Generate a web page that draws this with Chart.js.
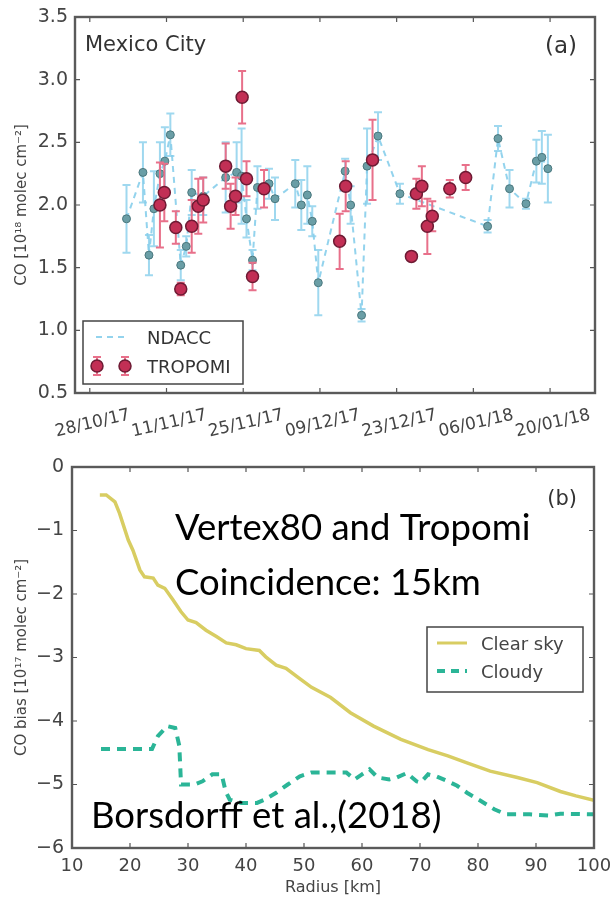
<!DOCTYPE html>
<html>
<head>
<meta charset="utf-8">
<script src="https://cdn.jsdelivr.net/npm/chart.js@4.4.0/dist/chart.umd.min.js"></script>
<style>
  html, body { margin: 0; padding: 0; background: #fff; }
  .panel { position: absolute; left: 0; }
</style>
</head>
<body>
<div class="panel" style="top:0"><canvas id="chartA" width="612" height="445"></canvas></div>
<div class="panel" style="top:445px"><canvas id="chartB" width="612" height="452"></canvas></div>
<script>
// ---- panel (a): days counted from 28/10/17 ----
const dateTickDays = [0, 14, 28, 42, 56, 70, 84];
const dateTickLabels = ['28/10/17', '11/11/17', '25/11/17', '09/12/17', '23/12/17', '06/01/18', '20/01/18'];

const ndaccDay = [6.7, 9.7, 10.8, 11.7, 12.8, 13.7, 14.7, 16.6, 17.6, 18.6, 20.7, 24.8, 26.8, 27.7, 28.6, 29.7, 30.6, 32.7, 33.8, 37.5,
                  38.6, 39.7, 40.6, 41.7, 46.6, 47.6, 49.6, 50.6, 52.6, 56.6, 72.6, 74.5, 76.6, 79.6, 81.5, 82.5, 83.6];
const ndaccCO = [1.89, 2.26, 1.60, 1.97, 2.25, 2.35, 2.56, 1.52, 1.67, 2.10, 2.07, 2.22, 2.26, 2.23, 1.89, 1.56, 2.14, 2.17, 2.05, 2.17,
                 2.00, 2.08, 1.87, 1.38, 2.27, 2.00, 1.12, 2.31, 2.55, 2.09, 1.83, 2.53, 2.13, 2.01, 2.35, 2.38, 2.29];
const ndaccErr = [0.27, 0.24, 0.16, 0.30, 0.25, 0.27, 0.17, 0.12, 0.08, 0.18, 0.15, 0.28, 0.24, 0.38, 0.15, 0.08, 0.17, 0.12, 0.17, 0.19,
                  0.20, 0.23, 0.12, 0.26, 0.10, 0.15, 0.05, 0.30, 0.19, 0.08, 0.05, 0.10, 0.15, 0.04, 0.17, 0.21, 0.27];

const tropDay = [12.8, 13.6, 15.7, 16.6, 18.6, 19.8, 20.7, 24.8, 25.7, 26.6, 27.8, 28.6, 29.7, 31.8, 45.6, 46.7, 51.6, 58.7, 59.6, 60.6,
                 61.6, 62.5, 65.7, 68.6];
const tropCO = [2.00, 2.10, 1.82, 1.33, 1.83, 1.99, 2.04, 2.31, 1.99, 2.07, 2.86, 2.21, 1.43, 2.13, 1.71, 2.15, 2.36, 1.59, 2.09, 2.15,
                1.83, 1.91, 2.13, 2.22];
const tropErr = [0.34, 0.23, 0.13, 0.05, 0.21, 0.22, 0.18, 0.18, 0.18, 0.15, 0.21, 0.14, 0.11, 0.15, 0.22, 0.20, 0.32, 0.03, 0.12, 0.16,
                 0.22, 0.12, 0.07, 0.10];

const coTicks = [0.5, 1.0, 1.5, 2.0, 2.5, 3.0, 3.5];

// ---- panel (b) ----
const clearR = [14.8, 15.9, 17.4, 18.2, 19.7, 20.5, 21.7, 22.5, 24.0, 24.8, 26.0, 27.4, 28.8, 30.0, 31.4, 33.1, 34.9, 36.6, 38.3, 40.0,
                42.3, 43.4, 45.2, 46.9, 49.2, 51.3, 54.6, 58.0, 62.0, 66.7, 71.4, 74.8, 78.1, 82.1, 86.8, 90.2, 94.2, 96.9, 100];
const clearBias = [-0.44, -0.44, -0.55, -0.73, -1.15, -1.31, -1.62, -1.73, -1.75, -1.86, -1.91, -2.09, -2.28, -2.41, -2.45, -2.57, -2.67, -2.77, -2.80, -2.86,
                   -2.89, -2.99, -3.12, -3.17, -3.33, -3.47, -3.63, -3.87, -4.08, -4.29, -4.45, -4.55, -4.66, -4.79, -4.89, -4.97, -5.11, -5.18, -5.25];

const cloudyR = [15.0, 23.8, 24.8, 26.4, 27.8, 28.5, 28.8, 31.1, 32.5, 34.2, 35.8, 36.5, 37.2, 39.2, 41.9, 43.2, 45.2, 47.2, 49.3, 51.3,
                 54.6, 57.3, 58.7, 60.0, 61.3, 62.7, 64.7, 66.0, 67.7, 69.4, 70.1, 71.4, 72.8, 74.8, 76.4, 78.1, 80.5, 82.8, 84.8, 88.9,
                 92.2, 94.2, 100];
const cloudyBias = [-4.44, -4.44, -4.24, -4.08, -4.11, -4.39, -5.00, -5.00, -4.95, -4.84, -4.84, -5.11, -5.24, -5.29, -5.29, -5.24, -5.13, -5.00, -4.87, -4.81,
                    -4.81, -4.81, -4.92, -4.84, -4.76, -4.89, -4.92, -4.89, -4.82, -4.95, -4.97, -4.84, -4.87, -4.95, -5.02, -5.13, -5.26, -5.39, -5.47, -5.47,
                    -5.49, -5.46, -5.47];

const radiusTicks = [10, 20, 30, 40, 50, 60, 70, 80, 90, 100];
const biasTicks = [-6, -5, -4, -3, -2, -1, 0];

Chart.defaults.font.family = '"DejaVu Sans", sans-serif';
Chart.defaults.color = '#444';

const toPoints = (xs, ys) => xs.map((x, i) => ({ x: x, y: ys[i] }));
const minus = v => (v < 0 ? '\u2212' + Math.abs(v) : String(v));

// error bars drawn under each dataset
const errorBars = {
  id: 'errorBars',
  beforeDatasetDraw(chart, args) {
    const ds = chart.data.datasets[args.index];
    if (!ds.errors) return;
    const { ctx, scales } = chart;
    ctx.save();
    ctx.strokeStyle = ds.errorColor;
    ctx.lineWidth = ds.errorWidth;
    ds.data.forEach((p, i) => {
      const px = scales.x.getPixelForValue(p.x);
      const top = scales.y.getPixelForValue(p.y + ds.errors[i]);
      const bot = scales.y.getPixelForValue(p.y - ds.errors[i]);
      const c = ds.capSize;
      ctx.beginPath();
      ctx.moveTo(px, top); ctx.lineTo(px, bot);
      ctx.moveTo(px - c, top); ctx.lineTo(px + c, top);
      ctx.moveTo(px - c, bot); ctx.lineTo(px + c, bot);
      ctx.stroke();
    });
    ctx.restore();
  }
};

// matplotlib-like box with inward ticks on all sides
const frameTicks = {
  id: 'frameTicks',
  afterDatasetsDraw(chart) {
    const { ctx, chartArea: a, scales } = chart;
    const len = 5;
    ctx.save();
    ctx.strokeStyle = '#555';
    ctx.lineWidth = 1.2;
    ctx.beginPath();
    scales.x.ticks.forEach(t => {
      const px = scales.x.getPixelForValue(t.value);
      ctx.moveTo(px, a.bottom); ctx.lineTo(px, a.bottom - len);
      ctx.moveTo(px, a.top); ctx.lineTo(px, a.top + len);
    });
    scales.y.ticks.forEach(t => {
      const py = scales.y.getPixelForValue(t.value);
      ctx.moveTo(a.left, py); ctx.lineTo(a.left + len, py);
      ctx.moveTo(a.right, py); ctx.lineTo(a.right - len, py);
    });
    ctx.stroke();
    ctx.strokeStyle = '#5a5a5a';
    ctx.lineWidth = 2.4;
    ctx.strokeRect(a.left, a.top, a.right - a.left, a.bottom - a.top);
    ctx.restore();
  }
};

// free text, legends
const extras = {
  id: 'extras',
  afterDraw(chart, args, opts) {
    const ctx = chart.ctx;
    ctx.save();
    (opts.legend ? [opts.legend] : []).forEach(lg => {
      ctx.fillStyle = '#fff';
      ctx.fillRect(lg.x, lg.y, lg.w, lg.h);
      ctx.strokeStyle = '#444';
      ctx.lineWidth = 1.5;
      ctx.strokeRect(lg.x, lg.y, lg.w, lg.h);
      lg.rows.forEach(r => r.draw(ctx));
    });
    (opts.texts || []).forEach(t => {
      ctx.font = t.font;
      ctx.fillStyle = t.color || '#000';
      ctx.textAlign = t.align || 'left';
      ctx.textBaseline = 'alphabetic';
      ctx.fillText(t.text, t.x, t.y);
    });
    ctx.restore();
  }
};

function marker(ctx, x, y, err) {
  ctx.strokeStyle = '#e8708a';
  ctx.lineWidth = 2;
  ctx.beginPath();
  ctx.moveTo(x, y - err); ctx.lineTo(x, y + err);
  ctx.moveTo(x - 4, y - err); ctx.lineTo(x + 4, y - err);
  ctx.moveTo(x - 4, y + err); ctx.lineTo(x + 4, y + err);
  ctx.stroke();
  ctx.beginPath();
  ctx.arc(x, y, 6, 0, Math.PI * 2);
  ctx.fillStyle = '#c22f55';
  ctx.fill();
  ctx.strokeStyle = '#6e1b34';
  ctx.lineWidth = 1.5;
  ctx.stroke();
}

// ---------------- chart (a) ----------------
new Chart(document.getElementById('chartA'), {
  type: 'scatter',
  data: {
    datasets: [
      {
        label: 'NDACC',
        data: toPoints(ndaccDay, ndaccCO),
        errors: ndaccErr, errorColor: 'rgba(135,206,235,0.8)', errorWidth: 2, capSize: 4,
        showLine: true,
        borderColor: 'rgba(135,206,235,0.9)',
        borderWidth: 2,
        borderDash: [6, 5],
        pointRadius: 4,
        pointBackgroundColor: '#6a9ea6',
        pointBorderColor: '#4a777d',
        pointBorderWidth: 1,
        order: 2
      },
      {
        label: 'TROPOMI',
        data: toPoints(tropDay, tropCO),
        errors: tropErr, errorColor: '#e8708a', errorWidth: 2, capSize: 4,
        showLine: false,
        pointRadius: 6,
        pointBackgroundColor: '#c22f55',
        pointBorderColor: '#6e1b34',
        pointBorderWidth: 1.5,
        order: 1
      }
    ]
  },
  options: {
    responsive: false,
    animation: false,
    events: [],
    layout: { padding: { top: 17, right: 17, left: 0, bottom: 0 } },
    plugins: {
      legend: { display: false },
      tooltip: { enabled: false },
      extras: {
        legend: {
          x: 83, y: 321, w: 160, h: 63,
          rows: [
            { draw(ctx) {
                ctx.strokeStyle = 'rgba(135,206,235,0.9)'; ctx.lineWidth = 2; ctx.setLineDash([6, 5]);
                ctx.beginPath(); ctx.moveTo(96, 337); ctx.lineTo(124, 337); ctx.stroke(); ctx.setLineDash([]);
                ctx.font = '18px "DejaVu Sans"'; ctx.fillStyle = '#333'; ctx.textAlign = 'left'; ctx.fillText('NDACC', 147, 344);
              } },
            { draw(ctx) {
                marker(ctx, 97, 366, 9); marker(ctx, 125, 366, 9);
                ctx.font = '18px "DejaVu Sans"'; ctx.fillStyle = '#333'; ctx.textAlign = 'left'; ctx.fillText('TROPOMI', 147, 373);
              } }
          ]
        },
        texts: [
          { text: 'Mexico City', x: 85, y: 51, font: '21px "DejaVu Sans"', color: '#333' },
          { text: '(a)', x: 577, y: 53, font: '23px "DejaVu Sans"', color: '#333', align: 'right' }
        ]
      }
    },
    scales: {
      x: {
        type: 'linear',
        min: -2.7,
        max: 92.2,
        afterBuildTicks: s => { s.ticks = dateTickDays.map(v => ({ value: v })); },
        afterFit: s => { s.height = 52; s.paddingLeft = 0; s.paddingRight = 0; },
        grid: { display: false, drawTicks: false },
        border: { display: false },
        ticks: {
          minRotation: 13, maxRotation: 13,
          labelOffset: 40,
          padding: 12,
          font: { size: 17 },
          color: '#444',
          callback: (v, i) => dateTickLabels[i]
        }
      },
      y: {
        min: 0.5,
        max: 3.5,
        afterBuildTicks: s => { s.ticks = coTicks.map(v => ({ value: v })); },
        afterFit: s => { s.width = 75; s.paddingTop = 0; s.paddingBottom = 0; },
        grid: { display: false, drawTicks: false },
        border: { display: false },
        title: { display: true, text: 'CO [10\u00b9\u2078 molec cm\u207b\u00b2]', font: { size: 15 }, color: '#444', padding: { top: 13, bottom: 0 } },
        ticks: { padding: 7, font: { size: 19 }, color: '#444', callback: v => v.toFixed(1) }
      }
    }
  },
  plugins: [errorBars, frameTicks, extras]
});

// ---------------- chart (b) ----------------
new Chart(document.getElementById('chartB'), {
  type: 'line',
  data: {
    datasets: [
      {
        label: 'Clear sky',
        data: toPoints(clearR, clearBias),
        borderColor: '#d8cd62',
        borderWidth: 3.5,
        pointRadius: 0,
        tension: 0
      },
      {
        label: 'Cloudy',
        data: toPoints(cloudyR, cloudyBias),
        borderColor: '#2bb597',
        borderWidth: 4,
        borderDash: [9, 7],
        pointRadius: 0,
        tension: 0
      }
    ]
  },
  options: {
    responsive: false,
    animation: false,
    events: [],
    layout: { padding: { top: 22, right: 18, left: 0, bottom: 0 } },
    plugins: {
      legend: { display: false },
      tooltip: { enabled: false },
      extras: {
        legend: {
          x: 427, y: 182, w: 156, h: 65,
          rows: [
            { draw(ctx) {
                ctx.strokeStyle = '#d8cd62'; ctx.lineWidth = 3; ctx.setLineDash([]);
                ctx.beginPath(); ctx.moveTo(437, 198); ctx.lineTo(467, 198); ctx.stroke();
                ctx.font = '18px "DejaVu Sans"'; ctx.fillStyle = '#444'; ctx.textAlign = 'left'; ctx.fillText('Clear sky', 481, 205);
              } },
            { draw(ctx) {
                ctx.strokeStyle = '#2bb597'; ctx.lineWidth = 4; ctx.setLineDash([8, 6]);
                ctx.beginPath(); ctx.moveTo(437, 226); ctx.lineTo(467, 226); ctx.stroke(); ctx.setLineDash([]);
                ctx.font = '18px "DejaVu Sans"'; ctx.fillStyle = '#444'; ctx.textAlign = 'left'; ctx.fillText('Cloudy', 481, 233);
              } }
          ]
        },
        texts: [
          { text: '(b)', x: 577, y: 60, font: '21px "DejaVu Sans"', color: '#333', align: 'right' },
          { text: 'Vertex80 and Tropomi', x: 175, y: 95, font: '36.5px Lato, "Open Sans", sans-serif' },
          { text: 'Coincidence: 15km', x: 175, y: 150, font: '36.5px Lato, "Open Sans", sans-serif' },
          { text: 'Borsdorff et al.,(2018)', x: 91, y: 383, font: '36.5px Lato, "Open Sans", sans-serif' }
        ]
      }
    },
    scales: {
      x: {
        type: 'linear',
        min: 10,
        max: 100,
        afterBuildTicks: s => { s.ticks = radiusTicks.map(v => ({ value: v })); },
        afterFit: s => { s.height = 49; s.paddingLeft = 0; s.paddingRight = 0; },
        grid: { display: false, drawTicks: false },
        border: { display: false },
        title: { display: true, text: 'Radius [km]', font: { size: 16 }, color: '#444', padding: { top: 1, bottom: 0 } },
        ticks: { padding: 8, font: { size: 18 }, color: '#444', maxRotation: 0 }
      },
      y: {
        min: -6,
        max: 0,
        afterBuildTicks: s => { s.ticks = biasTicks.map(v => ({ value: v })); },
        afterFit: s => { s.width = 72; s.paddingTop = 0; s.paddingBottom = 0; },
        grid: { display: false, drawTicks: false },
        border: { display: false },
        title: { display: true, text: 'CO bias [10\u00b9\u2077 molec cm\u207b\u00b2]', font: { size: 15 }, color: '#444', padding: { top: 13, bottom: 0 } },
        ticks: { padding: 8, font: { size: 19 }, color: '#444', callback: v => minus(v) }
      }
    }
  },
  plugins: [frameTicks, extras]
});
</script>
</body>
</html>
